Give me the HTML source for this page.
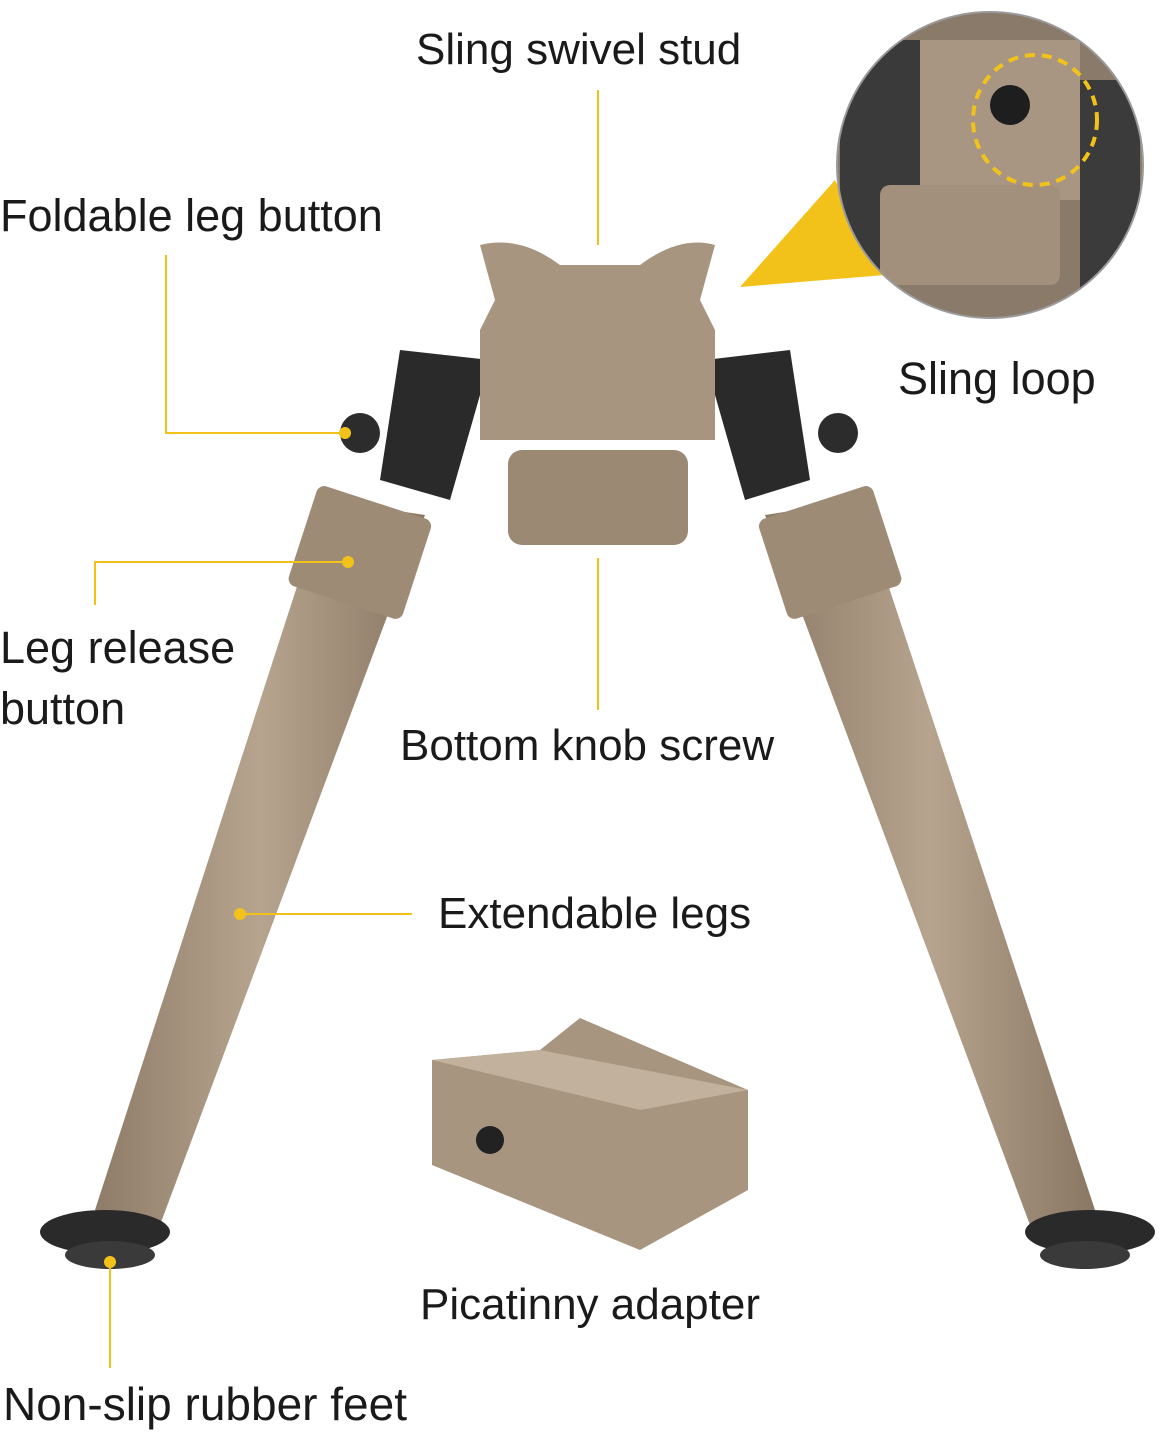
<!DOCTYPE html>
<html><head><meta charset="utf-8"><style>
html,body{margin:0;padding:0;background:#fff;}
body{width:1162px;height:1433px;position:relative;overflow:hidden;font-family:"Liberation Sans",sans-serif;}
.t{position:absolute;font-size:45px;color:#1a1a1a;white-space:nowrap;line-height:1;}
svg{position:absolute;left:0;top:0;}
</style></head><body>
<svg width="1162" height="1433" viewBox="0 0 1162 1433">
<defs>
<linearGradient id="tan" x1="0" x2="1"><stop offset="0" stop-color="#8f7c68"/><stop offset="0.5" stop-color="#b6a48f"/><stop offset="1" stop-color="#8a7763"/></linearGradient>
<clipPath id="cc"><circle cx="990" cy="165" r="153"/></clipPath>
</defs>
<polygon points="740,287 835,180 885,275" fill="#f3c21a"/>
<g clip-path="url(#cc)">
<rect x="830" y="0" width="320" height="330" fill="#8a7a6a"/>
<rect x="840" y="40" width="80" height="240" fill="#3a3a3a"/>
<rect x="1080" y="80" width="60" height="230" fill="#3b3b3b"/>
<rect x="920" y="40" width="160" height="160" fill="#a89683"/>
<rect x="880" y="185" width="180" height="100" rx="10" fill="#a2907c"/>
<circle cx="1010" cy="105" r="20" fill="#1e1e1e"/>
</g>
<circle cx="990" cy="165" r="153" fill="none" stroke="#9a9a9a" stroke-width="2"/>
<ellipse cx="1035" cy="120" rx="62" ry="65" fill="none" stroke="#f3c21a" stroke-width="4" stroke-dasharray="10 7"/>
<polygon points="325,500 425,515 160,1225 95,1210" fill="url(#tan)"/>
<polygon points="765,515 860,500 1095,1210 1030,1225" fill="url(#tan)"/>
<rect x="300" y="500" width="120" height="105" rx="8" fill="#9e8b76" transform="rotate(18 360 552)"/>
<rect x="770" y="500" width="120" height="105" rx="8" fill="#9e8b76" transform="rotate(-18 830 552)"/>
<ellipse cx="105" cy="1232" rx="65" ry="22" fill="#2a2a2a"/>
<ellipse cx="110" cy="1255" rx="45" ry="14" fill="#3a3a3a"/>
<ellipse cx="1090" cy="1232" rx="65" ry="22" fill="#2a2a2a"/>
<ellipse cx="1085" cy="1255" rx="45" ry="14" fill="#3a3a3a"/>
<polygon points="400,350 490,360 450,500 380,480" fill="#2a2a2a"/>
<polygon points="705,360 790,350 810,480 745,500" fill="#2a2a2a"/>
<circle cx="360" cy="433" r="20" fill="#2c2c2c"/>
<circle cx="838" cy="433" r="20" fill="#2c2c2c"/>
<path d="M480,245 Q520,235 560,265 L640,265 Q680,235 715,245 L700,300 L715,330 L715,440 L480,440 L480,330 L495,300 Z" fill="#a8957f"/>
<rect x="508" y="450" width="180" height="95" rx="14" fill="#9c8974"/>
<polygon points="432,1060 540,1050 580,1018 748,1090 748,1190 640,1250 432,1165" fill="#a8957f"/>
<polygon points="432,1060 540,1050 748,1090 640,1110" fill="#c2b19d"/>
<circle cx="490" cy="1140" r="14" fill="#222"/>
<g stroke="#f3c21a" stroke-width="2" fill="none">
<path d="M598,90 V245"/>
<path d="M166,255 V433 H345"/>
<path d="M95,605 V562 H348"/>
<path d="M598,558 V710"/>
<path d="M240,914 H412"/>
<path d="M110,1262 V1368"/>
</g>
<g fill="#f3c21a"><circle cx="345" cy="433" r="6"/><circle cx="348" cy="562" r="6"/><circle cx="240" cy="914" r="6"/><circle cx="110" cy="1262" r="6"/></g>
</svg>
<div class="t" style="left:416px;top:28px;font-size:44px">Sling swivel stud</div>
<div class="t" style="left:0px;top:193px">Foldable leg button</div>
<div class="t" style="left:898px;top:356px">Sling loop</div>
<div class="t" style="left:0px;top:625px">Leg release</div>
<div class="t" style="left:0px;top:686px">button</div>
<div class="t" style="left:400px;top:724px;font-size:44px">Bottom knob screw</div>
<div class="t" style="left:438px;top:892px;font-size:44px">Extendable legs</div>
<div class="t" style="left:420px;top:1283px;font-size:44px">Picatinny adapter</div>
<div class="t" style="left:3px;top:1381px;font-size:46px">Non-slip rubber feet</div>
</body></html>
